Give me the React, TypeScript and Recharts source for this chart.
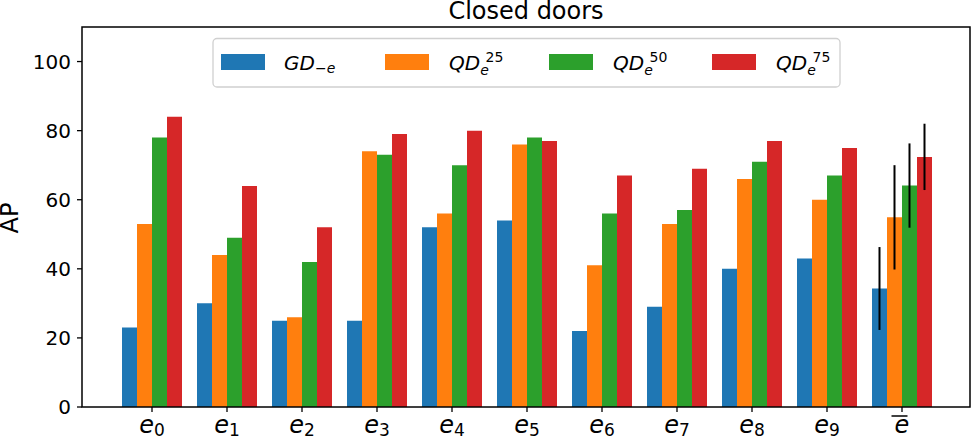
import { BarChart, Bar, XAxis, YAxis, ErrorBar } from 'recharts';

// categories: e0..e9 plus the mean (e-bar)
const CATEGORIES = ['0', '1', '2', '3', '4', '5', '6', '7', '8', '9', 'bar'];

const GD = [23, 30, 25, 25, 52, 54, 22, 29, 40, 43, 34.3];
const QD25 = [53, 44, 26, 74, 56, 76, 41, 53, 66, 60, 54.9];
const QD50 = [78, 49, 42, 73, 70, 78, 56, 57, 71, 67, 64.1];
const QD75 = [84, 64, 52, 79, 80, 77, 67, 69, 77, 75, 72.4];

// std of the mean, only on the last group
const GD_ERR = [null, null, null, null, null, null, null, null, null, null, 12];
const QD25_ERR = [null, null, null, null, null, null, null, null, null, null, 15.1];
const QD50_ERR = [null, null, null, null, null, null, null, null, null, null, 12.2];
const QD75_ERR = [null, null, null, null, null, null, null, null, null, null, 9.6];

const Y_TICKS = [0, 20, 40, 60, 80, 100];

const BLUE = '#1f77b4';
const ORANGE = '#ff7f0e';
const GREEN = '#2ca02c';
const RED = '#d62728';

const LEGEND = [
  { key: 'gd', color: BLUE, x: 221 },
  { key: 'qd25', color: ORANGE, x: 385, sup: '25' },
  { key: 'qd50', color: GREEN, x: 549, sup: '50' },
  { key: 'qd75', color: RED, x: 712, sup: '75' },
];

const data = CATEGORIES.map((c, i) => ({
  cat: c,
  gd: GD[i],
  qd25: QD25[i],
  qd50: QD50[i],
  qd75: QD75[i],
  gdErr: GD_ERR[i],
  qd25Err: QD25_ERR[i],
  qd50Err: QD50_ERR[i],
  qd75Err: QD75_ERR[i],
}));

const FONT = '"DejaVu Sans", sans-serif';

function XTick(props: any) {
  const { x, y, payload } = props;
  const v = payload.value;
  if (v === 'bar') {
    return (
      <g>
        <line x1={x - 10.5} x2={x + 5.5} y1={y + 4} y2={y + 4} stroke="#000" strokeWidth={1.5} />
        <text x={x} y={y + 21} textAnchor="middle" fontSize={24} fontStyle="italic" fill="#000">
          e
        </text>
      </g>
    );
  }
  return (
    <text x={x} y={y + 21} textAnchor="middle" fill="#000">
      <tspan fontSize={24} fontStyle="italic">e</tspan>
      <tspan fontSize={17} dy={3}>{v}</tspan>
    </text>
  );
}

function Overlay() {
  return (
    <svg
      width={972}
      height={437}
      style={{ position: 'absolute', left: 0, top: 0, pointerEvents: 'none', fontFamily: FONT }}
    >
      {/* frame (matplotlib spines) */}
      <rect x={82} y={27} width={888} height={380} fill="none" stroke="#000" strokeWidth={1.5} />
      <text x={526} y={18.5} textAnchor="middle" fontSize={24} fill="#000">
        Closed doors
      </text>
      <text x={18} y={218} transform="rotate(-90 18 218)" textAnchor="middle" fontSize={24} fill="#000">
        AP
      </text>
      {/* legend */}
      <rect x={213} y={38.5} width={627} height={48.5} rx={4} fill="#fff" fillOpacity={0.8} stroke="#d0d0d0" strokeWidth={1.3} />
      {LEGEND.map((l) => (
        <rect key={l.key} x={l.x} y={54} width={44} height={16} fill={l.color} />
      ))}
      <text x={284} y={69.5} fill="#000" fontSize={20}>
        <tspan fontStyle="italic">GD</tspan>
        <tspan fontSize={14} dy={3.5}>−</tspan>
        <tspan fontSize={14} fontStyle="italic">e</tspan>
      </text>
      {LEGEND.filter((l) => l.sup).map((l) => (
        <text key={l.key} x={l.x + 64} y={69.5} fill="#000" fontSize={20}>
          <tspan fontStyle="italic">QD</tspan>
          <tspan fontSize={14} fontStyle="italic" dy={5}>e</tspan>
          <tspan fontSize={14} x={l.x + 64 + 36.5} dy={-13}>{l.sup}</tspan>
        </text>
      ))}
    </svg>
  );
}

export default function App() {
  return (
    <div
      style={{
        position: 'fixed',
        left: 0,
        top: 0,
        width: 972,
        height: 437,
        background: '#fff',
        fontFamily: FONT,
      }}
    >
      <BarChart
        width={972}
        height={437}
        data={data}
        margin={{ top: 27, right: 2, bottom: 0, left: 22 }}
        barCategoryGap={7.5}
        barGap={0}
      >
        <XAxis
          dataKey="cat"
          height={30}
          padding={{ left: 32.5, right: 30.5 }}
          axisLine={false}
          tickLine={{ stroke: '#000', strokeWidth: 1.3 }}
          tickSize={5}
          tickMargin={0}
          interval={0}
          tick={<XTick />}
        />
        <YAxis
          width={60}
          domain={[0, 110]}
          ticks={Y_TICKS}
          allowDataOverflow
          axisLine={false}
          tickLine={{ stroke: '#000', strokeWidth: 1.3 }}
          tickSize={5}
          tickMargin={6}
          tick={{ fill: '#000', fontSize: 20 }}
        />
        <Bar dataKey="gd" fill={BLUE} isAnimationActive={false}>
          <ErrorBar dataKey="gdErr" width={0} stroke="#000" strokeWidth={2} direction="y" isAnimationActive={false} />
        </Bar>
        <Bar dataKey="qd25" fill={ORANGE} isAnimationActive={false}>
          <ErrorBar dataKey="qd25Err" width={0} stroke="#000" strokeWidth={2} direction="y" isAnimationActive={false} />
        </Bar>
        <Bar dataKey="qd50" fill={GREEN} isAnimationActive={false}>
          <ErrorBar dataKey="qd50Err" width={0} stroke="#000" strokeWidth={2} direction="y" isAnimationActive={false} />
        </Bar>
        <Bar dataKey="qd75" fill={RED} isAnimationActive={false}>
          <ErrorBar dataKey="qd75Err" width={0} stroke="#000" strokeWidth={2} direction="y" isAnimationActive={false} />
        </Bar>
      </BarChart>
      <Overlay />
    </div>
  );
}
